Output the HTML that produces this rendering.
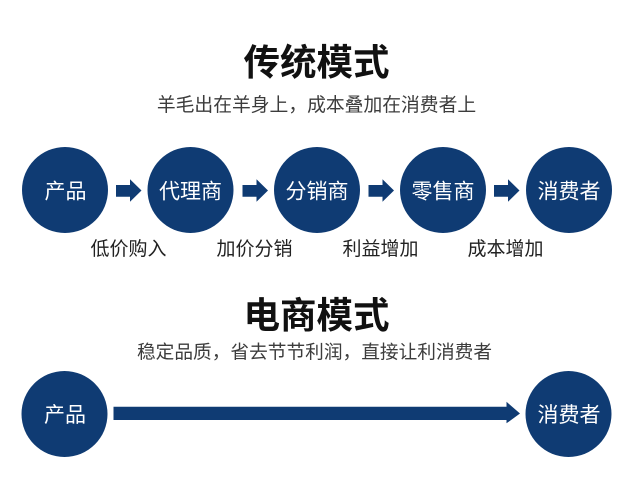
<!DOCTYPE html>
<html>
<head>
<meta charset="utf-8">
<style>
  html, body { margin: 0; padding: 0; background: #ffffff; }
  body { width: 633px; height: 497px; overflow: hidden; }
  svg { display: block; }
  text { font-family: "Liberation Sans", "Noto Sans CJK SC", "WenQuanYi Zen Hei", sans-serif; }
</style>
</head>
<body>
<svg width="633" height="497" viewBox="0 0 633 497" xmlns="http://www.w3.org/2000/svg">
  <rect width="633" height="497" fill="#ffffff"/>

  <!-- Traditional model title -->
  <text x="316.5" y="75" text-anchor="middle" font-size="36.5" font-weight="700" fill="#111111">传统模式</text>
  <text x="316.5" y="110.8" text-anchor="middle" font-size="18.8" fill="#3c3c3c">羊毛出在羊身上，成本叠加在消费者上</text>

  <!-- Top row circles -->
  <g fill="#0f3b73">
    <circle cx="65" cy="190" r="43"/>
    <circle cx="190.5" cy="190" r="43"/>
    <circle cx="317" cy="190" r="43"/>
    <circle cx="443" cy="190" r="43"/>
    <circle cx="569" cy="190" r="43"/>
  </g>

  <!-- Top row arrows -->
  <g fill="#0f3b73">
    <polygon points="116,185 130,185 130,179.3 141.5,190.5 130,201.7 130,196.7 116,196.7"/>
    <polygon points="242.5,185 256.5,185 256.5,179.3 268,190.5 256.5,201.7 256.5,196.7 242.5,196.7"/>
    <polygon points="368.5,185 382.5,185 382.5,179.3 394,190.5 382.5,201.7 382.5,196.7 368.5,196.7"/>
    <polygon points="494,185 508,185 508,179.3 519.5,190.5 508,201.7 508,196.7 494,196.7"/>
  </g>

  <!-- Circle labels -->
  <g fill="#ffffff" font-size="21" text-anchor="middle">
    <text x="65.5" y="198.5">产品</text>
    <text x="190.5" y="198.5">代理商</text>
    <text x="317" y="198.5">分销商</text>
    <text x="443" y="198.5">零售商</text>
    <text x="569" y="198.5">消费者</text>
  </g>

  <!-- Labels under arrows -->
  <g fill="#222222" font-size="19" text-anchor="middle">
    <text x="128.5" y="255">低价购入</text>
    <text x="254.5" y="255">加价分销</text>
    <text x="380.5" y="255">利益增加</text>
    <text x="505.5" y="255">成本增加</text>
  </g>

  <!-- E-commerce model title -->
  <text x="316.5" y="328" text-anchor="middle" font-size="36.5" font-weight="700" fill="#111111">电商模式</text>
  <text x="314.5" y="358.7" text-anchor="middle" font-size="18.7" fill="#3c3c3c">稳定品质，省去节节利润，直接让利消费者</text>

  <!-- Bottom row -->
  <g fill="#0f3b73">
    <circle cx="64.5" cy="414" r="43"/>
    <circle cx="568.5" cy="414" r="43"/>
    <polygon points="113.5,406.8 506.5,406.8 506.5,401.8 520,413.5 506.5,423.3 506.5,420 113.5,420"/>
  </g>
  <g fill="#ffffff" font-size="21" text-anchor="middle">
    <text x="65" y="421.8">产品</text>
    <text x="569" y="421.8">消费者</text>
  </g>
</svg>
</body>
</html>
